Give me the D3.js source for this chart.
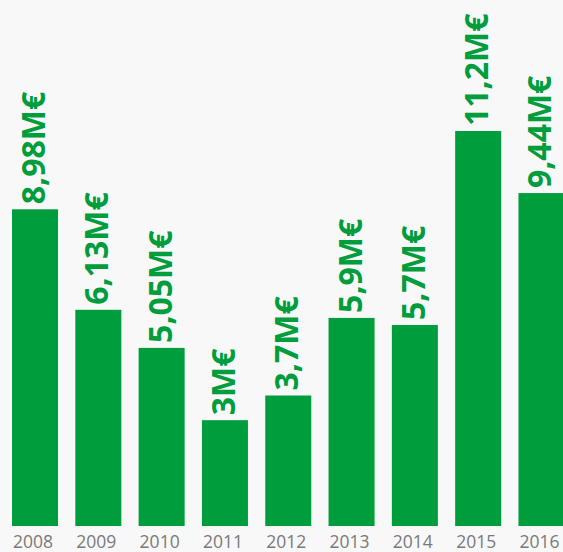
<!DOCTYPE html>
<html>
<head>
<meta charset="utf-8">
<script src="https://cdn.jsdelivr.net/npm/d3@7"></script>
<style>
    body { margin: 0; background: #f8f8f8; }
    svg { display: block; }
</style>
</head>
<body>
<svg id="chart"></svg>
<script>
// Data
let years = ['2008', '2009', '2010', '2011', '2012', '2013', '2014', '2015', '2016'];
let values = [8.98, 6.13, 5.05, 3, 3.7, 5.9, 5.7, 11.2, 9.44];
let labels = ['8,98M€', '6,13M€', '5,05M€', '3M€', '3,7M€', '5,9M€', '5,7M€', '11,2M€', '9,44M€'];

let c = {
    width: 563,
    height: 552,
    green: '#009d3c',
    base: 526
};

let svg = d3.select('#chart')
    .attr('width', c.width)
    .attr('height', c.height);

svg.append('rect')
    .attr('width', c.width)
    .attr('height', c.height)
    .style('fill', '#f8f8f8');

let x = d3.scaleBand()
    .domain(years)
    .range([12, 564.5])
    .paddingInner(0.273)
    .paddingOuter(0);

let y = d3.scaleLinear()
    .domain([0, 11.2])
    .range([c.base, 131]);

let rows = years.map((yr, i) => ({ year: yr, value: values[i], label: labels[i] }));

// Bars
svg.append('g')
    .selectAll('rect')
    .data(rows)
    .join('rect')
    .attr('x', d => x(d.year))
    .attr('y', d => y(d.value))
    .attr('width', x.bandwidth())
    .attr('height', d => c.base - y(d.value))
    .style('fill', c.green);

// Value labels, rotated
svg.append('g')
    .selectAll('text')
    .data(rows)
    .join('text')
    .attr('transform', d => translate(x(d.year) + x.bandwidth() / 2 + 10, y(d.value) - 5) + ' rotate(-90)')
    .attr('text-anchor', 'start')
    .style('font-family', '"Open Sans", sans-serif')
    .style('font-weight', 'bold')
    .style('font-size', '32px')
    .style('fill', c.green)
    .text(d => d.label);

// Year axis
let axis = svg.append('g')
    .attr('transform', translate(0, c.base))
    .call(d3.axisBottom(x).tickSize(0).tickPadding(0));
axis.select('.domain').remove();
axis.selectAll('text')
    .attr('dy', null)
    .attr('y', 22)
    .attr('dx', '-2px')
    .style('font-family', '"Open Sans", sans-serif')
    .style('font-size', '17.5px')
    .style('fill', '#7a7a7a');

function translate(x, y) {
    return 'translate(' + x + ',' + y + ')';
}
</script>
</body>
</html>
